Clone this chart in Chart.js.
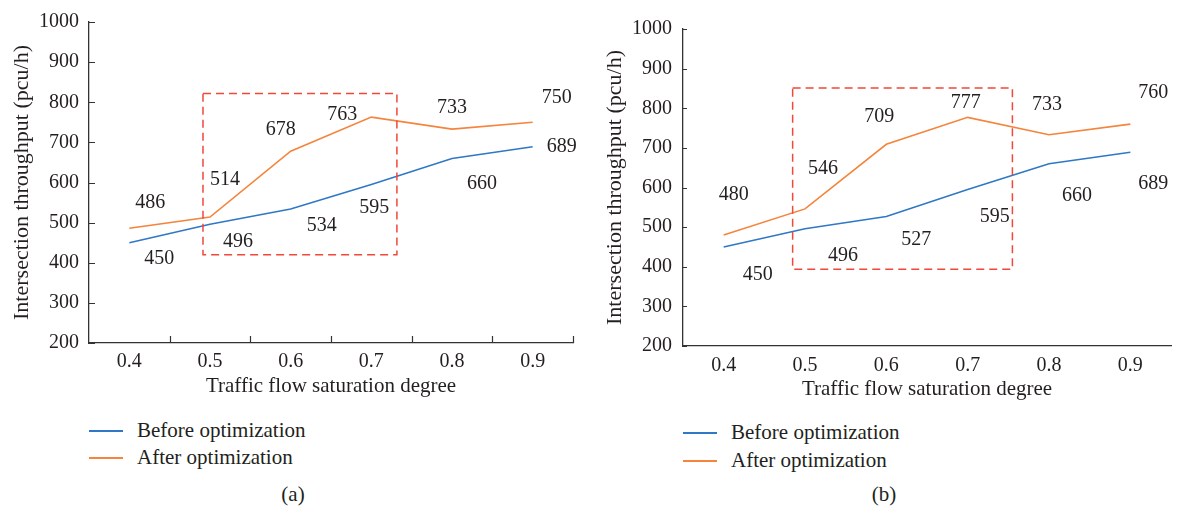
<!DOCTYPE html>
<html>
<head>
<meta charset="utf-8">
<script src="https://cdn.jsdelivr.net/npm/chart.js@4.4.0/dist/chart.umd.min.js"></script>
<style>
  body { margin: 0; background: #fff; width: 1177px; height: 513px; position: relative; overflow: hidden;
         font-family: "Liberation Serif", serif; color: #231f20; }
  .box { position: absolute; }
  .leg { position: absolute; font-size: 21px; line-height: 22px; white-space: nowrap; }
  .leg i { position: absolute; top: 11px; width: 34px; height: 2px; }
  .leg span { position: absolute; }
  .cap { position: absolute; font-size: 21px; transform: translate(-50%, -50%); }
</style>
</head>
<body>
<div class="box" id="wrapA" style="left:0;top:0;width:585px;height:400px"><canvas id="graficoA"></canvas></div>
<div class="box" id="wrapB" style="left:595px;top:0;width:582px;height:402px"><canvas id="graficoB"></canvas></div>

<div class="leg" style="left:89px;top:419px"><i style="background:#2f78c6"></i><span style="left:48px">Before optimization</span></div>
<div class="leg" style="left:89px;top:446px"><i style="background:#f5843c"></i><span style="left:48px">After optimization</span></div>
<div class="leg" style="left:683px;top:421px"><i style="background:#2f78c6"></i><span style="left:48px">Before optimization</span></div>
<div class="leg" style="left:683px;top:449px"><i style="background:#f5843c"></i><span style="left:48px">After optimization</span></div>
<div class="cap" style="left:293px;top:494px">(a)</div>
<div class="cap" style="left:884px;top:494px">(b)</div>

<script>
// dados dos dois graficos
const saturacao = ["0.4", "0.5", "0.6", "0.7", "0.8", "0.9"];
const antesA = [450, 496, 534, 595, 660, 689];
const depoisA = [486, 514, 678, 763, 733, 750];
const antesB = [450, 496, 527, 595, 660, 689];
const depoisB = [480, 546, 709, 777, 733, 760];

// deslocamento dos rotulos de valor (px) em relacao ao ponto
const rotulosA = [
  [[30, 16], [28, 18], [31, 17], [3, 23], [30, 25], [29, 0]],
  [[21, -25], [15, -37], [-10, -21], [-29, -2], [0, -21], [24, -25]]
];
const rotulosB = [
  [[34, 28], [38, 27], [30, 23], [27, 27], [28, 32], [23, 32]],
  [[10, -40], [18, -40], [-7, -28], [-2, -15], [-2, -30], [23, -31]]
];

const azul = "#2f78c6";
const laranja = "#f5843c";
const fonteEixo = { family: "Liberation Serif", size: 20 };
const fonteX = { family: "Liberation Serif", size: 21 };
const fonteY = { family: "Liberation Serif", size: 22 };
const corTexto = "#231f20";

// plugin para rotulos, caixa tracejada e marcas internas dos eixos
const enfeites = {
  id: "enfeites",
  afterDatasetsDraw(chart, args, opts) {
    const { ctx, chartArea } = chart;
    const x = chart.scales.x, y = chart.scales.y;
    ctx.save();
    ctx.font = "20px 'Liberation Serif'";
    ctx.fillStyle = corTexto;
    ctx.textAlign = "center";
    ctx.textBaseline = "middle";
    chart.data.datasets.forEach((ds, di) => {
      chart.getDatasetMeta(di).data.forEach((pt, i) => {
        const off = opts.rotulos[di][i];
        ctx.fillText(String(ds.data[i]), pt.x + off[0], pt.y + off[1]);
      });
    });

    // caixa
    const c = opts.caixa;
    const x0 = x.getPixelForValue(c[0]), x1 = x.getPixelForValue(c[1]);
    const y0 = y.getPixelForValue(c[2]), y1 = y.getPixelForValue(c[3]);
    ctx.strokeStyle = "#f0483a";
    ctx.lineWidth = 1.5;
    ctx.setLineDash([8, 5]);
    ctx.strokeRect(x0, y1, x1 - x0, y0 - y1);
    ctx.setLineDash([]);

    // marcas internas
    ctx.strokeStyle = "#333";
    ctx.lineWidth = 1.2;
    ctx.beginPath();
    y.ticks.forEach(t => {
      const py = Math.round(y.getPixelForValue(t.value)) + 0.5;
      ctx.moveTo(chartArea.left, py);
      ctx.lineTo(chartArea.left + opts.marcaY, py);
    });
    if (opts.marcaX) {
      const meio = (x.getPixelForValue(1) - x.getPixelForValue(0)) / 2;
      saturacao.forEach((s, i) => {
        const px = Math.round(x.getPixelForValue(i) + meio) + 0.5;
        ctx.moveTo(px, chartArea.bottom);
        ctx.lineTo(px, chartArea.bottom - opts.marcaX);
      });
    }
    ctx.stroke();
    ctx.restore();
  }
};

function montaGrafico(id, antes, depois, cfg) {
  return new Chart(document.getElementById(id), {
    type: "line",
    data: {
      labels: saturacao,
      datasets: [
        { label: "Before optimization", data: antes, borderColor: azul, borderWidth: 1.6, pointRadius: 0, tension: 0 },
        { label: "After optimization", data: depois, borderColor: laranja, borderWidth: 1.6, pointRadius: 0, tension: 0 }
      ]
    },
    options: {
      responsive: true,
      maintainAspectRatio: false,
      animation: false,
      devicePixelRatio: 1,
      layout: { padding: { top: cfg.topo, right: cfg.direita, left: 0, bottom: 0 } },
      plugins: {
        legend: { display: false },
        tooltip: { enabled: false },
        enfeites: { rotulos: cfg.rotulos, caixa: cfg.caixa, marcaY: cfg.marcaY, marcaX: cfg.marcaX }
      },
      scales: {
        x: {
          type: "category",
          offset: true,
          grid: { display: true, drawOnChartArea: false, drawTicks: false, offset: true },
          border: { display: true, color: "#333", width: 1.3 },
          ticks: { color: corTexto, font: fonteEixo, padding: cfg.padX, maxRotation: 0 },
          title: { display: true, text: "Traffic flow saturation degree", color: corTexto, font: fonteX, padding: { top: 0, bottom: cfg.padTituloX } },
          afterFit(s) { s.height = cfg.alturaX; }
        },
        y: {
          min: 200,
          max: 1000,
          grid: { display: true, drawOnChartArea: false, drawTicks: false },
          border: { display: true, color: "#333", width: 1.3 },
          ticks: { stepSize: 100, color: corTexto, font: fonteEixo, padding: cfg.padY, callback: v => String(v) },
          title: { display: true, text: "Intersection throughput (pcu/h)", color: corTexto, font: fonteY, padding: { top: cfg.padTituloY, bottom: 0 } },
          afterFit(s) { s.width = cfg.larguraY; }
        }
      }
    },
    plugins: [enfeites]
  });
}

montaGrafico("graficoA", antesA, depoisA, {
  topo: 17, direita: 12, alturaX: 57, larguraY: 89, padX: 7, padY: 10, padTituloX: 1, padTituloY: 9,
  rotulos: rotulosA, caixa: [0.913, 3.317, 420, 822], marcaY: 6, marcaX: 7
});

montaGrafico("graficoB", antesB, depoisB, {
  topo: 29, direita: 6, alturaX: 56, larguraY: 88, padX: 8, padY: 11, padTituloX: 0, padTituloY: 7,
  rotulos: rotulosB, caixa: [0.848, 3.55, 394, 851], marcaY: 4, marcaX: 0
});
</script>
</body>
</html>
